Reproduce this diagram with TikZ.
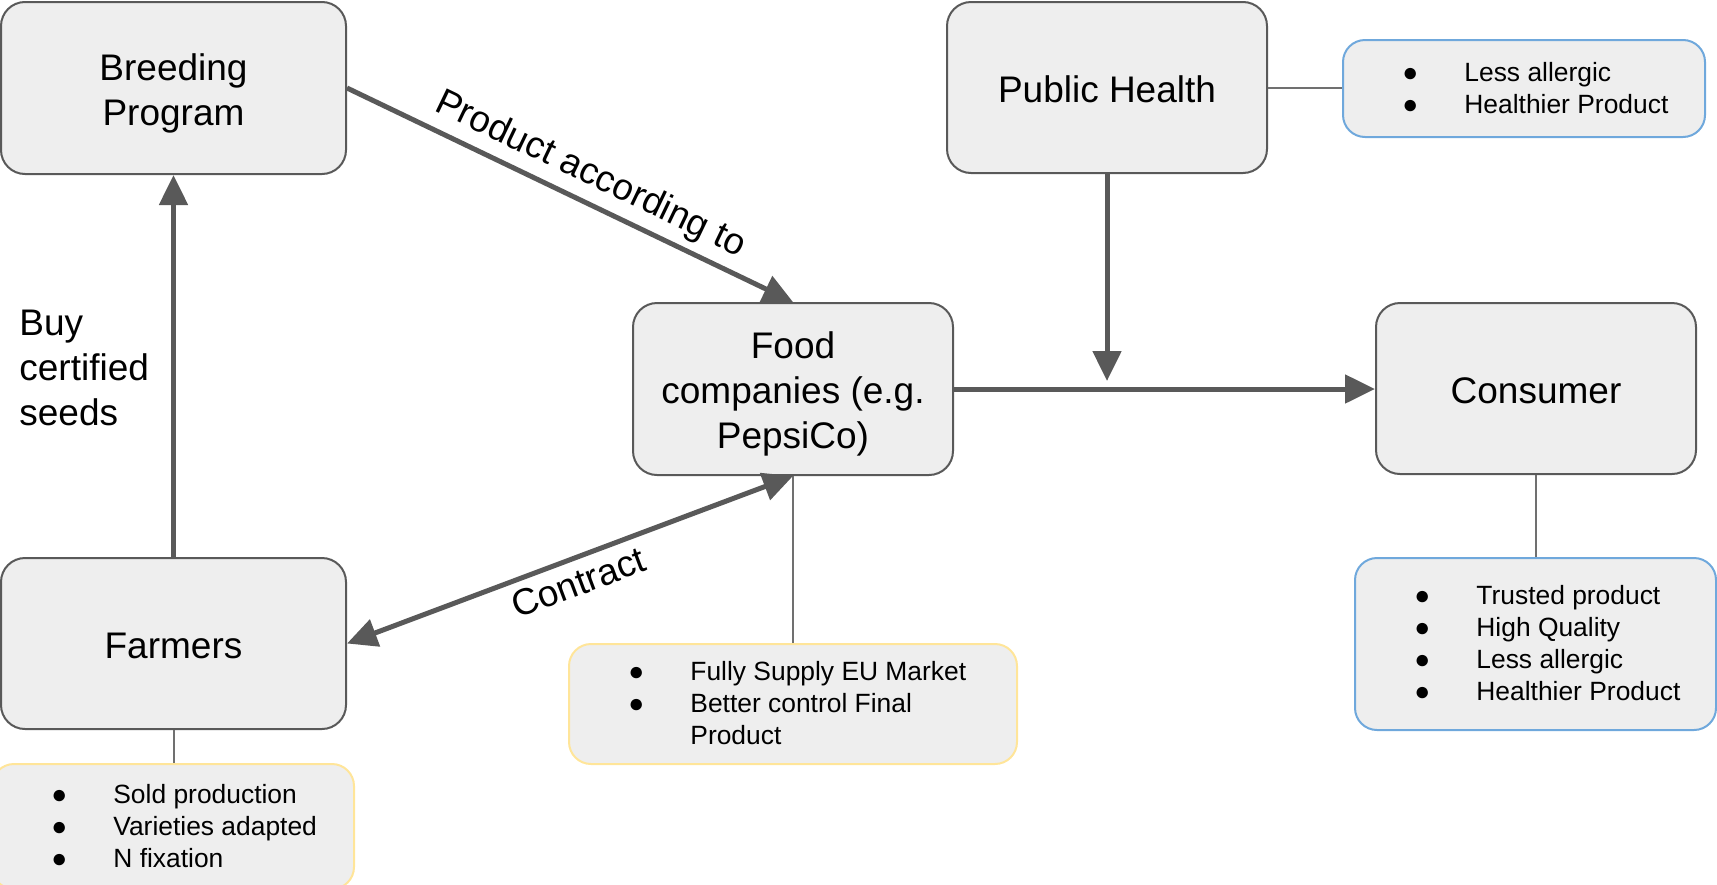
\documentclass[tikz,border=0pt]{standalone}
\usepackage{fontspec}
\setmainfont{Liberation Sans}
\usetikzlibrary{arrows.meta}
\definecolor{boxfill}{HTML}{EEEEEE}
\definecolor{boxline}{HTML}{595959}
\definecolor{arrowc}{HTML}{595959}
\definecolor{thinc}{HTML}{707070}
\definecolor{bluec}{HTML}{6FA8DC}
\definecolor{yellowc}{HTML}{FFE599}
\newcommand\bigfont{\fontsize{18.5pt}{22.5pt}\selectfont}
\newcommand\smallfont{\fontsize{13.2pt}{16pt}\selectfont}
\newcommand\tS{\rule{0pt}{19pt}}
\newcommand\bS{\rule[-4.5pt]{0pt}{4.5pt}}
\newcommand\ntS{\rule{0pt}{12pt}}
\newcommand\nbS{\rule[-3.5pt]{0pt}{3.5pt}}
\newcommand\itm[1]{\makebox[12pt][c]{●}\hspace{21pt}#1}
\begin{document}
\begin{tikzpicture}[x=0.5pt,y=-0.5pt,
  mainbox/.style={draw=boxline, line width=1pt, fill=boxfill, rounded corners=12pt, align=center, font=\bigfont, inner sep=0pt},
  notebox/.style={fill=boxfill, line width=1pt, rounded corners=11pt, inner sep=0pt},
  notetext/.style={align=left, font=\smallfont, inner sep=0pt, anchor=west},
  bigarrow/.style={draw=arrowc, line width=2.5pt, -{Triangle[length=15pt,width=14pt]}},
  thinline/.style={draw=thinc, line width=1pt},
  lbl/.style={font=\bigfont, inner sep=0pt}]
\useasboundingbox (0,0) rectangle (1717,884);

% main boxes
\node[mainbox, minimum width=172.5pt, minimum height=86pt] (breed) at (173.5,88) {\tS Breeding\\Program\bS};
\node[mainbox, minimum width=172.5pt, minimum height=85.5pt] (farm) at (173.5,643.5) {\tS Farmers\bS};
\node[mainbox, minimum width=160pt, minimum height=86pt] (food) at (793,389) {\tS Food\\companies (e.g.\\PepsiCo)\bS};
\node[mainbox, minimum width=160pt, minimum height=85.5pt] (ph) at (1107,87.5) {\tS Public Health\bS};
\node[mainbox, minimum width=160pt, minimum height=85.5pt] (cons) at (1536,388.5) {\tS Consumer\bS};

% note boxes
\node[notebox, draw=bluec, minimum width=181pt, minimum height=48.5pt] (phn) at (1524,88.5) {};
\node[notetext] (phnt) at ([xshift=28pt]phn.west) {\ntS\itm{Less allergic}\\\itm{Healthier Product}\nbS};

\node[notebox, draw=bluec, minimum width=180.5pt, minimum height=86pt] (consn) at (1535.5,644) {};
\node[notetext] (consnt) at ([xshift=28pt]consn.west) {\ntS\itm{Trusted product}\\\itm{High Quality}\\\itm{Less allergic}\\\itm{Healthier Product}\nbS};

\node[notebox, draw=yellowc, minimum width=224pt, minimum height=60pt] (foodn) at (793,704) {};
\node[notetext] (foodnt) at ([xshift=28pt]foodn.west) {\ntS\itm{Fully Supply EU Market}\\\itm{Better control Final}\\\hspace*{33pt}Product\nbS};

\node[notebox, draw=yellowc, minimum width=181pt, minimum height=62.5pt] (farmn) at (173,826.5) {};
\node[notetext] (farmnt) at ([xshift=28pt]farmn.west) {\ntS\itm{Sold production}\\\itm{Varieties adapted}\\\itm{N fixation}\nbS};

% free label
\node[lbl, align=left, anchor=north west] (buy) at (19,297) {\tS Buy\\certified\\seeds};

% thin connectors
\draw[thinline] (ph.east) -- (ph.east -| phn.west);
\draw[thinline] (cons.south) -- (cons.south |- consn.north);
\draw[thinline] (food.south) -- (foodn.north);
\draw[thinline] (farm.south) -- (farm.south |- farmn.north);

% thick arrows
\draw[bigarrow] (farm.north) -- (breed.south);
\draw[bigarrow] (breed.east) -- node[lbl, sloped, pos=0.52, above=3.6pt] (prodlbl) {Product according to} (food.north);
\draw[bigarrow, {Triangle[length=15pt,width=14pt]}-{Triangle[length=15pt,width=14pt]}] (farm.east) -- node[lbl, sloped, pos=0.5, below=4.3pt] (contractlbl) {Contract} (food.south);
\draw[bigarrow] (food.east) -- (food.east -| cons.west);
\coordinate (phend) at (1107,381);
\draw[bigarrow] (ph.south) -- (phend);
\end{tikzpicture}
\end{document}
